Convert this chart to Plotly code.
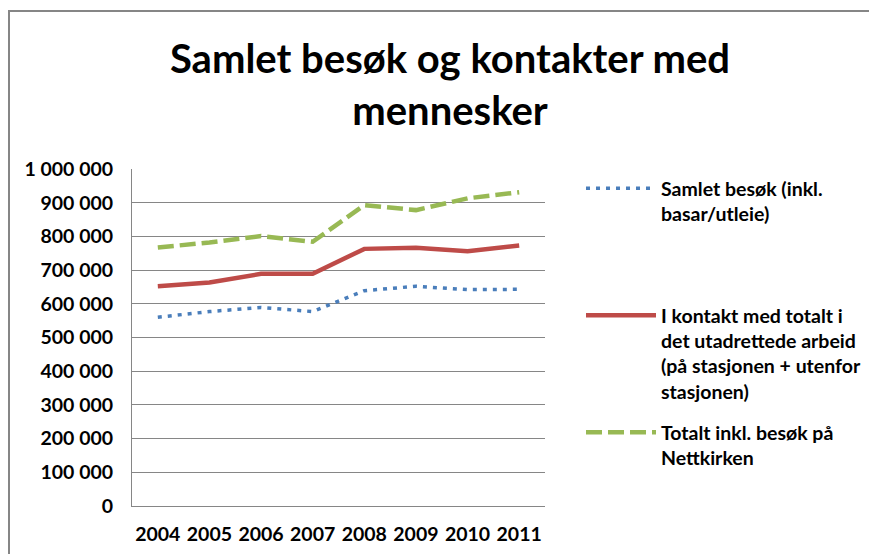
import plotly.graph_objects as go

years = ["2004", "2005", "2006", "2007", "2008", "2009", "2010", "2011"]
samlet_besok = [560000, 577000, 589000, 577000, 639000, 652000, 642000, 643000]
i_kontakt = [652000, 663000, 689000, 689000, 763000, 766000, 756000, 773000]
totalt_nettkirken = [767000, 782000, 801000, 784000, 893000, 878000, 913000, 931000]

names = [
    "Samlet besøk (inkl.<br>basar/utleie)",
    "I kontakt med totalt i<br>det utadrettede arbeid<br>(på stasjonen + utenfor<br>stasjonen)",
    "Totalt inkl. besøk på<br>Nettkirken",
]
y_ticks = [0, 100000, 200000, 300000, 400000, 500000, 600000, 700000, 800000, 900000, 1000000]

FONT = "Lato"
W, H = 869, 546          # page has an 8px body margin
PL, PR, PT, PB = 124, 537, 161, 498   # plot area in figure px
PW, PH = PR - PL, PB - PT

def px_x(x):
    return (x - PL) / PW

def px_y(y):
    return (PB - y) / PH

fig = go.Figure()
fig.add_trace(go.Scatter(x=years, y=samlet_besok, name=names[0], mode="lines",
                         line=dict(color="#4A7EBB", width=3.5, dash="4px,6px"), legend="legend"))
fig.add_trace(go.Scatter(x=years, y=i_kontakt, name=names[1], mode="lines",
                         line=dict(color="#BE4B48", width=4.5), legend="legend2"))
fig.add_trace(go.Scatter(x=years, y=totalt_nettkirken, name=names[2], mode="lines",
                         line=dict(color="#98B954", width=4.5, dash="16px,6px"), legend="legend3"))

leg_common = dict(font=dict(family=FONT, size=19.5, color="#000000", weight="bold"),
                  bgcolor="rgba(0,0,0,0)", itemwidth=70, valign="top",
                  xanchor="left", yanchor="top", tracegroupgap=0)

LX = px_x(573)
fig.update_layout(
    width=W, height=H,
    paper_bgcolor="white", plot_bgcolor="white",
    margin=dict(l=PL, r=W - PR, t=PT, b=H - PB, autoexpand=False),
    showlegend=True,
    separators=", ",
    title=dict(text="Samlet besøk og kontakter med<br>mennesker",
               font=dict(family=FONT, size=40, color="#000000", weight="bold"),
               x=442 / W, xanchor="center", y=1 - 65 / H, yanchor="middle"),
    xaxis=dict(type="category", showgrid=False, showline=True, linecolor="#868686", linewidth=1,
               ticks="", ticklabelstandoff=11,
               tickfont=dict(family=FONT, size=19.5, color="#000000", weight="bold"),
               range=[-0.5, 7.5], fixedrange=True),
    yaxis=dict(range=[0, 1000000], tickvals=y_ticks, tickformat=",d", showgrid=True,
               gridcolor="#868686", gridwidth=1, showline=True, linecolor="#868686", linewidth=1,
               ticks="", ticklen=0, zeroline=False, ticklabelstandoff=14,
               tickfont=dict(family=FONT, size=19.5, color="#000000", weight="bold")),
    legend=dict(x=LX, y=px_y(161), **leg_common),
    legend2=dict(x=LX, y=px_y(288), **leg_common),
    legend3=dict(x=LX, y=px_y(405), **leg_common),
    shapes=[dict(type="rect", xref="paper", yref="paper",
                 x0=px_x(1), x1=px_x(900),
                 y0=px_y(600), y1=px_y(3),
                 line=dict(color="#868686", width=2), layer="below")],
)

fig.write_html("out.html")
